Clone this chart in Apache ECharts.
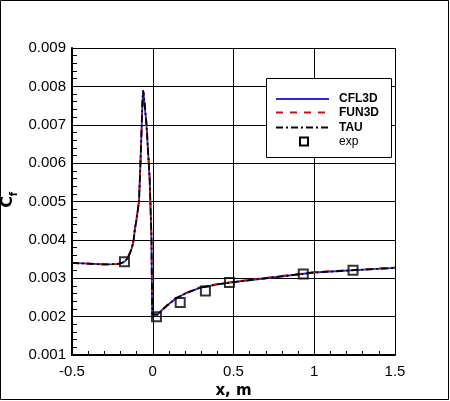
<!DOCTYPE html>
<html>
<head>
<meta charset="utf-8">
<script src="https://cdn.jsdelivr.net/npm/echarts@6/dist/echarts.min.js"></script>
<style>
html,body{margin:0;padding:0;background:#fff;}
#chart{width:450px;height:401px;}
</style>
</head>
<body>
<div id="chart"></div>
<script>
// x positions (m) of the computed Cf curves
var xCurve = [-0.5,-0.4,-0.3,-0.22,-0.19,-0.17,-0.155,-0.142,-0.132,-0.125,-0.118,-0.111,-0.101,-0.093,-0.085,-0.076,-0.068,-0.063,-0.060,-0.056,-0.05,-0.039,-0.025,-0.019,-0.008,-0.004,0.0,0.012,0.03,0.06,0.1,0.146,0.2,0.29,0.4,0.5,0.7,1.0,1.25,1.5];
var cfl3d = [0.00340,0.00338,0.00336,0.00337,0.00340,0.00345,0.00353,0.00365,0.00376,0.00386,0.00400,0.00426,0.00452,0.00475,0.00500,0.00600,0.00700,0.00765,0.00786,0.00778,0.00750,0.00700,0.00600,0.00556,0.00404,0.00220,0.00205,0.00200,0.00205,0.00218,0.00233,0.00248,0.00260,0.00275,0.00284,0.00290,0.00300,0.00315,0.00321,0.00327];
var fun3d = [0.00340,0.00338,0.00336,0.00337,0.00340,0.00345,0.00353,0.00366,0.00377,0.00387,0.00401,0.00427,0.00453,0.00477,0.00502,0.00603,0.00703,0.00768,0.00788,0.00782,0.00756,0.00706,0.00606,0.00560,0.00410,0.00225,0.00206,0.00201,0.00206,0.00219,0.00234,0.00249,0.00261,0.00276,0.00285,0.00291,0.00301,0.00316,0.00322,0.00328];
var tau   = [0.00340,0.00338,0.00336,0.00337,0.00340,0.00345,0.00353,0.00365,0.00376,0.00386,0.00401,0.00427,0.00453,0.00476,0.00502,0.00604,0.00705,0.00770,0.00790,0.00780,0.00752,0.00703,0.00603,0.00558,0.00406,0.00222,0.00205,0.00200,0.00205,0.00218,0.00233,0.00248,0.00260,0.00275,0.00284,0.00290,0.00300,0.00315,0.00321,0.00327];
// experimental data
var expX = [-0.175,0.023,0.170,0.326,0.475,0.932,1.24];
var expY = [0.00343,0.00200,0.00237,0.00267,0.00289,0.00311,0.00321];
// axes
var xTicks = {min:-0.5, max:1.5, interval:0.5};
var yTicks = {min:0.001, max:0.009, interval:0.001};
var seriesNames = ['CFL3D','FUN3D','TAU','exp'];
var seriesColors = ['#2b2bd6','#cc1010','#000000','#000000'];
var seriesDash = ['solid',[7,7],[7,3,2,3],null];

function pairs(xs, ys){ return xs.map(function(x,i){ return [x, ys[i]]; }); }

var font = '"Liberation Sans", Arial, Helvetica, sans-serif';
var boldWide = '"DejaVu Sans", "Liberation Sans", Arial, sans-serif';

// legend drawn as graphic elements (box, line samples, labels)
var legendBox = {x:266, y:78, w:125, h:79};
var legendRows = [99, 112.5, 127.5, 141.5];
var legendGraphics = [{type:'rect', shape:{x:legendBox.x+0.5, y:legendBox.y+0.5, width:legendBox.w, height:legendBox.h}, style:{fill:'#fff', stroke:'#000', lineWidth:1}, z:100, silent:true}];
seriesNames.forEach(function(name, i){
  var yy = legendRows[i];
  if (i < 3) {
    legendGraphics.push({type:'line', shape:{x1:276, y1:yy, x2:329, y2:yy}, style:{stroke:seriesColors[i], lineWidth:2, lineDash: seriesDash[i]==='solid'?null:seriesDash[i]}, z:101, silent:true});
  } else {
    legendGraphics.push({type:'rect', shape:{x:300, y:yy-4, width:8, height:8}, style:{fill:null, stroke:'#000', lineWidth:2}, z:101, silent:true});
  }
  legendGraphics.push({type:'text', x:339, y:yy, style:{text:name, fill:'#000', font:(i<3?'bold ':'')+'12px '+font, textVerticalAlign:'middle', textAlign:'left'}, z:101, silent:true});
});

var chart = echarts.init(document.getElementById('chart'), null, {renderer:'canvas'});
chart.setOption({
  backgroundColor:'#fff',
  animation:false,
  textStyle:{fontFamily:font},
  graphic:[
    {type:'rect', shape:{x:0.5,y:0.5,width:448,height:399}, style:{fill:null, stroke:'#000', lineWidth:1}, silent:true},
    {type:'text', x:8, y:202, rotation:Math.PI/2, style:{text:'C', fill:'#000', font:'bold 16px '+boldWide, textAlign:'center', textVerticalAlign:'middle'}, silent:true},
    {type:'text', x:14, y:194, rotation:Math.PI/2, style:{text:'f', fill:'#000', font:'bold 10px '+boldWide, textAlign:'center', textVerticalAlign:'middle'}, silent:true}
  ].concat(legendGraphics),
  grid:{left:72, right:55, top:48, bottom:46, containLabel:false, outerBoundsMode:'none'},
  xAxis:{
    type:'value', min:xTicks.min, max:xTicks.max, interval:xTicks.interval,
    name:'x, m', nameLocation:'middle', nameGap:22,
    nameTextStyle:{fontFamily:boldWide, fontSize:15, fontWeight:'bold', color:'#000'},
    axisLine:{show:true, onZero:false, lineStyle:{color:'#000', width:2}},
    axisTick:{show:true, inside:true, length:8, lineStyle:{color:'#000', width:1}},
    minorTick:{show:true, splitNumber:5, length:4, lineStyle:{color:'#000', width:1}},
    axisLabel:{fontFamily:font, fontSize:15, color:'#000', margin:9},
    splitLine:{show:true, lineStyle:{color:'#000', width:1}}
  },
  yAxis:{
    type:'value', min:yTicks.min, max:yTicks.max, interval:yTicks.interval,
    axisLine:{show:true, onZero:false, lineStyle:{color:'#000', width:2}},
    axisTick:{show:true, inside:true, length:8, lineStyle:{color:'#000', width:1}},
    minorTick:{show:true, splitNumber:5, length:5, lineStyle:{color:'#000', width:1}},
    axisLabel:{fontFamily:font, fontSize:15, color:'#000', margin:6, formatter:function(v){return v.toFixed(3);}},
    splitLine:{show:true, lineStyle:{color:'#000', width:1}}
  },
  series:[
    {name:seriesNames[0], type:'line', data:pairs(xCurve,cfl3d), symbol:'none', lineStyle:{color:seriesColors[0], width:1.8, type:seriesDash[0]}, itemStyle:{color:seriesColors[0]}},
    {name:seriesNames[1], type:'line', data:pairs(xCurve,fun3d), symbol:'none', lineStyle:{color:seriesColors[1], width:1.8, type:seriesDash[1]}, itemStyle:{color:seriesColors[1]}},
    {name:seriesNames[2], type:'line', data:pairs(xCurve,tau), symbol:'none', lineStyle:{color:seriesColors[2], width:1.8, type:seriesDash[2]}, itemStyle:{color:seriesColors[2]}},
    {name:seriesNames[3], type:'scatter', data:pairs(expX,expY), symbol:'rect', symbolSize:9, itemStyle:{color:'rgba(0,0,0,0)', borderColor:'#000', borderWidth:2}, z:5}
  ]
});
</script>
</body>
</html>
